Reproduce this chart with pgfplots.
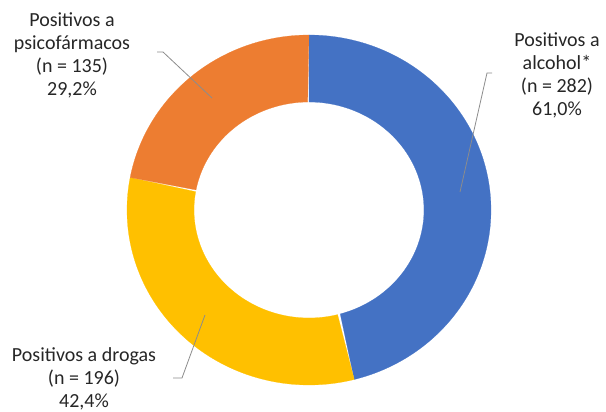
\documentclass[border=0pt]{standalone}
\usepackage{pgfplots}
\pgfplotsset{compat=1.18}
\usepackage{pgfplotstable}
\usepackage{fontspec}
\setmainfont{Carlito}
\definecolor{cblue}{HTML}{4472C4}
\definecolor{corange}{HTML}{ED7D31}
\definecolor{cyellow}{HTML}{FFC000}
\definecolor{ctext}{HTML}{262626}
\definecolor{cline}{HTML}{8C8C8C}

\pgfplotstableread{
cat value
alcohol 282
drogas 196
psico 135
}\donut
\pgfplotstablegetelem{0}{value}\of\donut \let\vA\pgfplotsretval
\pgfplotstablegetelem{1}{value}\of\donut \let\vB\pgfplotsretval
\pgfplotstablegetelem{2}{value}\of\donut \let\vC\pgfplotsretval
\pgfmathsetmacro\tot{\vA+\vB+\vC}
\pgfmathsetmacro\aA{90}
\pgfmathsetmacro\aB{90-360*(\vA/\tot)}
\pgfmathsetmacro\aC{\aB-360*(\vB/\tot)}
\pgfmathsetmacro\aD{\aC-360*(\vC/\tot)}

\def\cx{309}\def\cy{202}
\def\Rx{182}\def\Ry{175}\def\rx{115}\def\ry{108}

\newcommand\sector[3]{%
  \addplot[fill=#1, draw=#1, line width=0.2pt, domain=0:2, samples=241, variable=\t]
  ({\cx+ifthenelse(\t<=1, \Rx*cos((#2)+((#3)-(#2))*\t), \rx*cos((#3)-((#3)-(#2))*(\t-1)))},
   {\cy+ifthenelse(\t<=1, \Ry*sin((#2)+((#3)-(#2))*\t), \ry*sin((#3)-((#3)-(#2))*(\t-1)))}) -- cycle;
}

\begin{document}
\begin{tikzpicture}
\begin{axis}[x=1pt, y=1pt, xmin=0, xmax=606, ymin=0, ymax=412,
  hide axis, clip=false]
\path (axis cs:0,0) rectangle (axis cs:606,412);
\sector{cblue}{\aA}{\aB}
\sector{cyellow}{\aB}{\aC}
\sector{corange}{\aC}{\aD}
\draw[cline, line width=0.8pt] (axis cs:157,360) -- (axis cs:163,360) -- (axis cs:212,314);
\draw[cline, line width=0.8pt] (axis cs:492,339) -- (axis cs:487,339) -- (axis cs:460,220);
\draw[cline, line width=0.8pt] (axis cs:173,34) -- (axis cs:182,34) -- (axis cs:205,97);
\begin{scope}[every node/.style={inner sep=0pt, align=center, text=ctext, font=\fontsize{20}{23}\selectfont}]
\node at (axis cs:72,357) {Positivos a\\psicofármacos\\(n = 135)\\29,2\%};
\node at (axis cs:557,337) {Positivos a\\alcohol*\\(n = 282)\\61,0\%};
\node at (axis cs:84,33) {Positivos a drogas\\(n = 196)\\42,4\%};
\end{scope}
\end{axis}
\end{tikzpicture}
\end{document}
